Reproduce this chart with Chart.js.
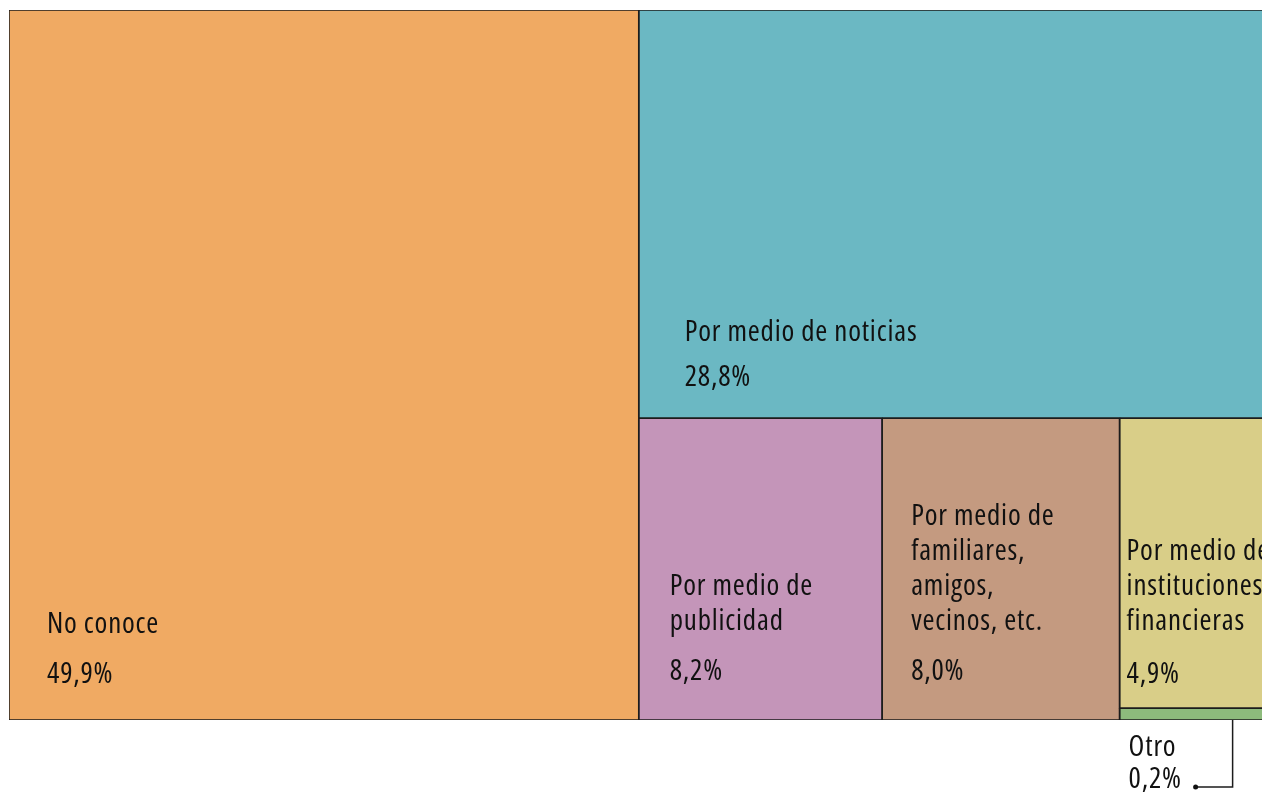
<!DOCTYPE html>
<html>
<head>
<meta charset="utf-8">
<script src="https://cdn.jsdelivr.net/npm/chart.js@4"></script>
<style>
  html, body { margin: 0; padding: 0; background: #fff; overflow: hidden; }
  #wrap { position: relative; width: 1272px; height: 796px; }
</style>
</head>
<body>
<div id="wrap"><canvas id="chart"></canvas></div>
<script>
// datos del treemap
const categories = ['No conoce', 'Por medio de noticias', 'Por medio de publicidad',
  'Por medio de familiares, amigos, vecinos, etc.', 'Por medio de instituciones financieras', 'Otro'];
const values = [49.9, 28.8, 8.2, 8.0, 4.9, 0.2];
const valueLabels = ['49,9%', '28,8%', '8,2%', '8,0%', '4,9%', '0,2%'];
const nameLines = [
  ['No conoce'],
  ['Por medio de noticias'],
  ['Por medio de', 'publicidad'],
  ['Por medio de', 'familiares,', 'amigos,', 'vecinos, etc.'],
  ['Por medio de', 'instituciones', 'financieras'],
  ['Otro']
];

// estilos
const colors = ['#f0aa63', '#6bb8c3', '#c495b9', '#c49a80', '#d9ce88', '#8dbb7c'];
const padX = [38, 46, 31, 29, 7];
const padBottom = [45, 40, 48, 48, 33];
const nameGap = [50, 45, 50, 50, 53];
const lineH = 35;
const W = 1262, H = 710; // tamaño del área en unidades de la escala

function worst(row, side) {
  const s = row.reduce((a, b) => a + b, 0);
  const mx = Math.max(...row), mn = Math.min(...row);
  return Math.max(side * side * mx / (s * s), s * s / (side * side * mn));
}

// algoritmo squarify
function squarify(vals, x, y, w, h) {
  const total = vals.reduce((a, b) => a + b, 0);
  const areas = vals.map(v => v * w * h / total);
  const rects = [];
  let i = 0;
  while (i < areas.length) {
    const side = Math.min(w, h);
    const row = [areas[i]];
    let j = i + 1;
    while (j < areas.length && worst([...row, areas[j]], side) <= worst(row, side)) {
      row.push(areas[j]);
      j++;
    }
    const s = row.reduce((a, b) => a + b, 0);
    if (w >= h) {
      const cw = s / h;
      let cy = y;
      row.forEach(a => { const rh = a / cw; rects.push({ x0: x, y0: cy, x1: x + cw, y1: cy + rh }); cy += rh; });
      x += cw; w -= cw;
    } else {
      const rh = s / w;
      let cx = x;
      row.forEach(a => { const cw = a / rh; rects.push({ x0: cx, y0: y, x1: cx + cw, y1: y + rh }); cx += cw; });
      y += rh; h -= rh;
    }
    i = j;
  }
  return rects;
}

const rects = squarify(values, 0, 0, W, H);

const fills = rects.map((r, i) => ({
  type: 'line',
  label: categories[i],
  data: [{ x: r.x0, y: r.y0 }, { x: r.x1, y: r.y0 }],
  fill: { value: r.y1 },
  backgroundColor: colors[i],
  borderWidth: 0,
  pointRadius: 0,
  order: 2
}));
const outlines = rects.map((r, i) => ({
  type: 'line',
  label: categories[i] + ' borde',
  data: [{ x: r.x0, y: r.y0 }, { x: r.x1, y: r.y0 }, { x: r.x1, y: r.y1 }, { x: r.x0, y: r.y1 }, { x: r.x0, y: r.y0 }],
  fill: false,
  borderColor: '#1c1c1c',
  borderWidth: 1.5,
  pointRadius: 0,
  order: 1
}));

const FONT = "29px 'Open Sans', 'DejaVu Sans Condensed', sans-serif";

const labelPlugin = {
  id: 'treemapLabels',
  afterDraw(chart) {
    const { ctx, scales: { x, y } } = chart;
    ctx.save();
    ctx.font = FONT;
    try { ctx.fontStretch = 'condensed'; } catch (e) {}
    try { ctx.letterSpacing = '0.8px'; } catch (e) {}
    ctx.fillStyle = '#111';
    ctx.textBaseline = 'middle';
    ctx.textAlign = 'left';
    rects.forEach((r, i) => {
      if (i >= padX.length) return;
      const left = x.getPixelForValue(r.x0) + padX[i];
      const bottom = y.getPixelForValue(r.y1);
      const vy = bottom - padBottom[i];
      ctx.fillText(valueLabels[i], left, vy);
      const lines = nameLines[i];
      lines.forEach((t, k) => {
        ctx.fillText(t, left, vy - nameGap[i] - (lines.length - 1 - k) * lineH);
      });
    });
    // etiqueta externa para "Otro"
    const k = rects.length - 1;
    const r = rects[k];
    const ox = x.getPixelForValue(r.x0);
    const ob = y.getPixelForValue(r.y1);
    ctx.fillText(nameLines[k][0], ox + 9, ob + 28);
    ctx.fillText(valueLabels[k], ox + 9, ob + 60);
    const dotX = ox + 76, dotY = ob + 67, lineX = ox + 113;
    ctx.strokeStyle = '#1c1c1c';
    ctx.lineWidth = 1.5;
    ctx.beginPath();
    ctx.moveTo(dotX, dotY);
    ctx.lineTo(lineX, dotY);
    ctx.lineTo(lineX, ob);
    ctx.stroke();
    ctx.beginPath();
    ctx.arc(dotX, dotY, 2.5, 0, Math.PI * 2);
    ctx.fill();
    ctx.restore();
  }
};

new Chart(document.getElementById('chart'), {
  type: 'scatter',
  data: { datasets: [...outlines, ...fills] },
  options: {
    responsive: true,
    maintainAspectRatio: false,
    animation: false,
    events: [],
    layout: { padding: { left: 9, top: 10, right: 1, bottom: 76 } },
    scales: {
      x: { type: 'linear', min: 0, max: W, display: false },
      y: { type: 'linear', min: 0, max: H, reverse: true, display: false }
    },
    plugins: { legend: { display: false }, tooltip: { enabled: false } }
  },
  plugins: [labelPlugin]
});
</script>
</body>
</html>
